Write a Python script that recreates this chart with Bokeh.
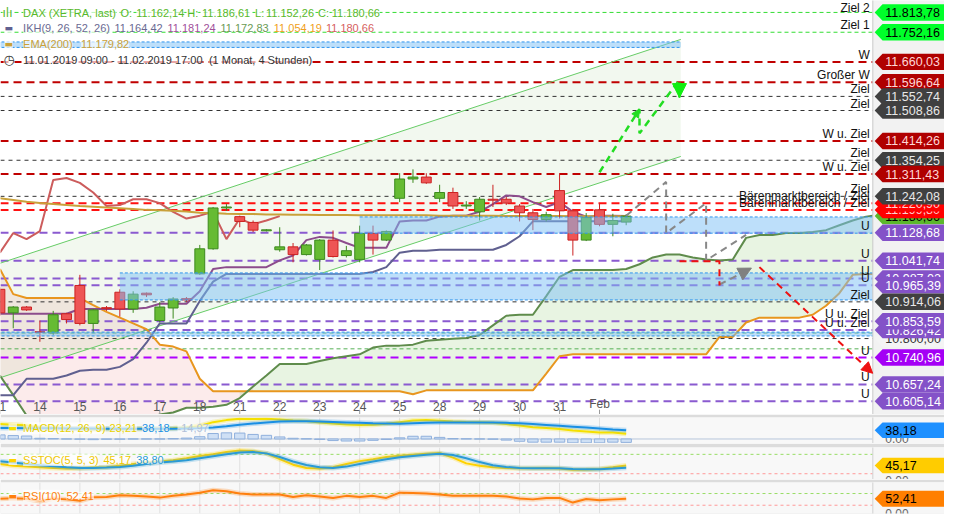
from bokeh.plotting import figure
from bokeh.layouts import column
from bokeh.models import Range1d, Label, Arrow, NormalHead
from bokeh.core.properties import value
from bokeh.embed import file_html
from bokeh.resources import INLINE

FONT = "Liberation Sans"

# ---------------- data ----------------
day_labels = ["11", "14", "15", "16", "17", "18", "21", "22", "23", "24", "25", "28", "29", "30", "31", "Feb"]
day_index = [0, 3, 6, 9, 12, 15, 18, 21, 24, 27, 30, 33, 36, 39, 42, 45]

opens = [10953, 10880, 10898, 10821, 10817, 10877, 10965, 10847, 10896, 10944, 10892, 10941, 10856, 10895, 10924, 11001,
         11079, 11206, 11179, 11161, 11135, 11076, 11085, 11061, 11046, 11106, 11058, 11046, 11127, 11106, 11236, 11296,
         11302, 11236, 11254, 11212, 11194, 11233, 11233, 11212, 11191, 11170, 11260, 11197, 11106, 11200, 11155, 11162.14]
highs = [10959, 10901, 10901, 10856, 10886, 10880, 10998, 10892, 10901, 10953, 10947, 10943, 10913, 10929, 10929, 11091,
         11209, 11218, 11182, 11167, 11140, 11146, 11097, 11094, 11109, 11136, 11088, 11151, 11151, 11136, 11314, 11326,
         11314, 11278, 11269, 11227, 11240, 11278, 11240, 11218, 11203, 11194, 11314, 11203, 11190, 11221, 11188, 11186.61]
lows = [10871, 10832, 10886, 10790, 10811, 10847, 10841, 10817, 10886, 10868, 10880, 10929, 10850, 10862, 10914, 10998,
        11076, 11197, 11146, 11131, 11133, 11070, 11037, 11058, 11013, 11052, 11052, 11037, 11061, 11103, 11224, 11284,
        11281, 11224, 11203, 11203, 11167, 11209, 11215, 11164, 11137, 11164, 11173, 11058, 11103, 11149, 11118, 11152.26]
closes = [10880, 10898, 10889, 10819, 10874, 10859, 10847, 10889, 10893, 10892, 10938, 10936, 10898, 10923, 10920, 11079,
          11206, 11209, 11164, 11137, 11138, 11085, 11061, 11091, 11106, 11055, 11073, 11127, 11106, 11133, 11296, 11302,
          11284, 11254, 11212, 11215, 11233, 11230, 11221, 11191, 11170, 11185, 11197, 11106, 11176, 11155, 11167, 11180.66]

ema200 = [11236, 11231, 11225, 11221, 11218, 11215, 11212, 11210, 11207, 11205, 11203, 11200, 11199, 11197, 11195, 11191,
          11190, 11188, 11187, 11187, 11186, 11186, 11185, 11185, 11184, 11184, 11184, 11183, 11183, 11183, 11183, 11183,
          11183, 11182, 11182, 11182, 11182, 11182, 11181, 11181, 11181, 11181, 11181, 11180, 11180, 11180, 11180, 11179.82]

ikh_kijun = [10624, 10624, 10675, 10675, 10675, 10685, 10700, 10703, 10703, 10712, 10736, 10787, 10847, 10847, 10847, 10917,
             10977, 11001, 11001, 11001, 11001, 11001, 11001, 11001, 11001, 11001, 11001, 11001, 11007, 11022, 11067, 11073,
             11073, 11076, 11076, 11076, 11076, 11076, 11091, 11118, 11164.42, 11164.42, 11164.42, 11164.42, 11164.42,
             11164.42, 11164.42, 11164.42]
ikh_tenkan = [10877, 10877, 10877, 10877, 10877, 10877, 10892, 10892, 10892, 10892, 10892, 10896, 10908, 10908, 10908, 10947,
              11016, 11022, 11022, 11022, 11022, 11043, 11058, 11106, 11116, 11113, 11097, 11082, 11082, 11082, 11164, 11167,
              11167, 11179, 11182, 11182, 11194, 11218, 11245, 11242, 11224, 11209, 11224, 11194, 11179, 11182, 11182, 11181.24]
ikh_chikou = [11067, 11128, 11109, 11134, 11293, 11299, 11284, 11254, 11212, 11215, 11233, 11233, 11221, 11194, 11173,
              11182, 11194, 11109, 11173, 11155, 11167, 11180.66]
ikh_senkou_a = [10685, 10624, 10561, 10525, 10507, 10495, 10489, 10489, 10495, 10507, 10525, 10549,
                10564, 10570, 10585, 10585, 10588, 10594, 10615, 10651, 10685, 10721, 10721, 10721,
                10730, 10739, 10745, 10751, 10772, 10778, 10778, 10781, 10793, 10796, 10799, 10802,
                10811, 10841, 10871, 10874, 10874, 10932, 10992, 11013, 11013, 11013, 11013, 11016,
                11031, 11052, 11061, 11061, 11052, 11046, 11043, 11046, 11113, 11122, 11122, 11128,
                11128, 11131, 11137, 11152, 11167, 11179, 11185]
ikh_senkou_b = [11016, 10938, 10926, 10926, 10926, 10926, 10926, 10904, 10883, 10865, 10847, 10829, 10781, 10775, 10760,
                10675, 10636, 10636, 10636, 10636, 10636, 10636, 10636, 10636, 10636, 10636, 10636, 10636, 10636, 10636,
                10636, 10627, 10639, 10639, 10639, 10639, 10639, 10639, 10639, 10639, 10639, 10691, 10745, 10751, 10751,
                10751, 10751, 10751, 10751, 10751, 10751, 10751, 10751, 10751, 10805, 10805, 10850, 10865, 10865, 10865,
                10865, 10874, 10902, 10941, 10998, 11001, 11001]

# trend channel (drawn)
chan_x = [0.0, 51.1]
chan_upper = [11034, 11730]
chan_lower = [10678, 11366]

# horizontal levels
level_vals = [11813.78, 11752.16, 11660.03, 11596.64, 11552.74, 11508.86, 11414.26, 11354.25, 11311.43, 11242.08,
              11220.90, 11199.80, 11128.68, 11041.74, 10987.02, 10965.39, 10914.06, 10853.59, 10826.42, 10800.00,
              10740.96, 10657.24, 10605.14]
level_kinds = ["zg", "zg", "w", "w", "z", "z", "w", "z", "w", "z", "b", "b", "u", "u", "u", "u", "z", "u", "u", "p",
               "m", "u", "u"]
level_texts = ["Ziel 2", "Ziel 1", "W", "Großer W", "Ziel", "Ziel", "W u. Ziel", "Ziel", "W u. Ziel", "Ziel",
               "Bärenmarktbereich / Ziel", "Bärenmarktbereich / Ziel", "U", "U", "U", "U", "Ziel", "U u. Ziel",
               "U u. Ziel", "", "U", "U", "U"]
tag_order = [0, 1, 2, 3, 4, 5, 6, 7, 8, -1, 11, 10, 9, 12, 13, 14, 15, 16, 19, 18, 17, 20, 21, 22]
thin_green_levels = [10817, 10768]

# zones
band_x0 = [-1, 27, 9, -1]
band_x1 = [51.1, 72, 72, 72]
band_top = [11722, 11178, 11004, 10820]
band_bot = [11705, 11127.5, 10920, 10808]

# projections (drawn)
proj_green_x = [45, 48, 48, 51, 51]
proj_green_y = [11317, 11513, 11438, 11604, 11549]
proj_gray_x = [47, 50, 50, 53, 53, 56]
proj_gray_y = [11182, 11287, 11128, 11221, 11043, 11122]
proj_gray2_x = [54, 56.4]
proj_gray2_y = [10968, 11019]
proj_red_x = [51, 54, 54]
proj_red_y = [11040, 11040, 10965]
proj_red2_x = [57, 65.5]
proj_red2_y = [11022, 10692]

# indicators
macd_line = [66, 63, 60, 50, 49, 46, 45, 43, 44, 44, 45, 45, 45, 47, 50, 57, 74, 83, 89, 88, 89, 86, 81, 79, 72, 68, 64,
             62, 63, 67, 74, 81, 83, 80, 77, 75, 74, 71, 66, 59, 52, 48, 44, 37, 33, 29, 28, 23.21]
macd_signal = [48, 48, 47, 47, 47, 46, 46, 46, 45, 45, 45, 45, 45, 45, 46, 47, 50, 56, 63, 68, 73, 77, 78, 78, 77, 75,
               73, 71, 69, 68, 67, 69, 71, 72, 73, 73, 73, 72, 71, 69, 66, 62, 58, 54, 50, 46, 42, 38.18]
macd_hist = [18, 15, 13, 3, 2, 0, -1, -3, -1, -1, 0, 0, 0, 2, 4, 10, 24, 27, 26, 20, 16, 9, 3, 1, -2, -7, -9, -9, -6, -2,
             5, 12, 12, 7, 2, 1, 0, -1, -5, -10, -14, -14, -14, -17, -17, -17, -14, -14.97]
sstoc_k = [50, 45, 42, 40, 38, 36, 37, 39, 40, 45, 50, 55, 58, 62, 68, 75, 80, 87, 92, 90, 83, 65, 48, 38, 36, 40, 50, 59,
           65, 72, 76, 79, 82, 84, 70, 52, 45, 40, 38, 37, 37, 38, 36, 32, 33, 35, 40, 45.17]
sstoc_d = [59, 55, 50, 46, 43, 40, 38, 38, 39, 41, 45, 50, 55, 58, 62, 68, 74, 80, 86, 87, 83, 72, 58, 47, 40, 38, 42, 50,
           58, 65, 71, 75, 79, 82, 78, 68, 56, 46, 41, 38, 37, 37, 37, 35, 34, 34, 36, 38.80]
rsi10 = [52, 54, 52, 44, 53, 50, 45, 57, 58, 64, 62, 60, 56, 62, 67, 73, 81, 78, 70, 67, 67, 67, 58, 64, 60, 55, 62, 58,
         62, 55, 73, 72, 70, 67, 62, 62, 62, 62, 60, 53, 50, 55, 55, 39, 51, 47, 50, 52.41]


def de(v):
    s = f"{v:,.2f}"
    return s.replace(",", "#").replace(".", ",").replace("#", ".")


idx = list(range(len(closes)))
idx_f = list(range(len(ikh_senkou_a)))
idx_c = list(range(len(ikh_chikou)))

X0, X1 = 0.044, 70.89
COLX = 65.51
xr = Range1d(X0, X1)


def base_fig(h, y0, y1, top=0, bottom=0, bg="white"):
    f = figure(width=944, height=h, x_range=xr, y_range=Range1d(y0, y1), output_backend="svg",
               toolbar_location=None, x_axis_location=None, y_axis_location=None, title=None,
               min_border_left=0, min_border_right=0, min_border_top=top, min_border_bottom=bottom,
               outline_line_color=None, background_fill_color=bg, border_fill_color="#dcdcdc")
    f.grid.visible = False
    return f


def tag(f, v, fill, tcol, half, txt=None, size="12.5px"):
    f.patch(x=[65.65, 66.24, X1 + 1, X1 + 1, 66.24], y=[v, v + half, v + half, v - half, v - half],
            fill_color=fill, line_color=None)
    f.text(x=[66.45], y=[v], text=[txt if txt is not None else de(v)], text_font=value(FONT),
           text_font_size=size, text_color=tcol, text_baseline="middle", text_align="left")


def lab(f, x, y, text, color, size="11px", bg="white", alpha=0.65, font=FONT):
    f.add_layout(Label(x=x, y=y, x_units="screen", y_units="screen", text=text, text_color=color,
                       text_font=font, text_font_size=size, text_baseline="middle",
                       background_fill_color=bg, background_fill_alpha=alpha if bg else 0))


# ---------------- main chart ----------------
Y0, Y1 = 10563.9, 11850.85
p = base_fig(414, Y0, Y1)

# kumo
p.varea(x=idx_f[:20], y1=ikh_senkou_a[:20], y2=ikh_senkou_b[:20], fill_color="#f08a8a", fill_alpha=0.17)
p.varea(x=idx_f[18:], y1=ikh_senkou_a[18:], y2=ikh_senkou_b[18:], fill_color="#8cc870", fill_alpha=0.2)
# trend channel fill
p.varea(x=chan_x, y1=chan_lower, y2=chan_upper, fill_color="#7fbf5f", fill_alpha=0.1)

styles = {"zg": ("#33dd33", 1, "4 3"), "w": ("#c00000", 2, "8 5"), "z": ("#333333", 1, "4 4"),
          "b": ("#ff1010", 2, "8 5"), "u": ("#8a5ad0", 2, "8 5"), "m": ("#b000ff", 2, "8 5"),
          "p": ("#333333", 1, "4 4")}
for kind, (col, lw, dash) in styles.items():
    vals = [v for v, k in zip(level_vals, level_kinds) if k == kind]
    p.segment(x0=X0, x1=COLX, y0=vals, y1=vals, line_color=col, line_width=lw, line_dash=dash)
p.segment(x0=X0, x1=COLX, y0=thin_green_levels, y1=thin_green_levels, line_color="#55b055", line_width=1,
          line_dash="4 3")

# channel lines
p.line(chan_x, chan_upper, line_color="#66cc66", line_width=1)
p.line(chan_x, chan_lower, line_color="#66cc66", line_width=1)

# ichimoku + ema
p.line(idx_f, ikh_senkou_b, line_color="#e8961e", line_width=2)
p.line(idx_f, ikh_senkou_a, line_color="#5f8c4c", line_width=2)
p.line(idx, ikh_kijun, line_color="#606090", line_width=2)
p.line(idx, ikh_tenkan, line_color="#8c4c8c", line_width=2)
p.line(idx_c, ikh_chikou, line_color="#cc5c5c", line_width=2)
p.line(idx, ema200, line_color="#c9a13a", line_width=2)

# candles
up = [c >= o for o, c in zip(opens, closes)]
wick_col = ["#3d8a1f" if u else "#cc2222" for u in up]
body_col = ["#66bb33" if u else "#ee5555" for u in up]
p.segment(x0=idx, x1=idx, y0=lows, y1=highs, line_color=wick_col, line_width=1)
p.vbar(x=idx, width=0.74, top=[max(o, c) for o, c in zip(opens, closes)],
       bottom=[min(o, c) for o, c in zip(opens, closes)], fill_color=body_col, line_color=wick_col, line_width=1)

# zones
p.quad(left=band_x0, right=band_x1, top=band_top, bottom=band_bot, fill_color="#7cc0f5", fill_alpha=0.5,
       line_color=None)
p.segment(x0=band_x0, x1=band_x1, y0=band_top, y1=band_top, line_color="#2f95ee", line_width=1, line_dash="3 2")
p.segment(x0=band_x0, x1=band_x1, y0=band_bot, y1=band_bot, line_color="#2f95ee", line_width=1, line_dash="3 2")

# projections
p.line(proj_green_x, proj_green_y, line_color="#22dd22", line_width=2.5, line_dash="7 5")
p.line(proj_gray_x, proj_gray_y, line_color="#888888", line_width=2, line_dash="7 5")
p.line(proj_gray2_x, proj_gray2_y, line_color="#888888", line_width=2, line_dash="7 5")
p.line(proj_red_x, proj_red_y, line_color="#ee1111", line_width=2, line_dash="7 5")
p.line(proj_red2_x, proj_red2_y, line_color="#ee1111", line_width=2, line_dash="7 5")
p.add_layout(Arrow(end=NormalHead(size=8, fill_color="#22dd22", line_color="#22dd22"), line_alpha=0,
                   x_start=proj_green_x[0], y_start=proj_green_y[0], x_end=proj_green_x[1], y_end=proj_green_y[1]))
p.add_layout(Arrow(end=NormalHead(size=14, fill_color="#11ee11", line_color="#11ee11"), line_alpha=0,
                   x_start=proj_green_x[3], y_start=proj_green_y[3], x_end=proj_green_x[4], y_end=proj_green_y[4]))
p.add_layout(Arrow(end=NormalHead(size=13, fill_color="#808080", line_color="#808080"), line_alpha=0,
                   x_start=proj_gray2_x[0], y_start=proj_gray2_y[0], x_end=proj_gray2_x[1], y_end=proj_gray2_y[1]))
p.add_layout(Arrow(end=NormalHead(size=11, fill_color="#ee1111", line_color="#ee1111"), line_alpha=0,
                   x_start=proj_red2_x[0], y_start=proj_red2_y[0], x_end=proj_red2_x[1], y_end=proj_red2_y[1]))

# price column
p.quad(left=COLX, right=X1 + 1, bottom=Y0 - 50, top=Y1 + 50, fill_color="#f2f2f2", line_color=None)
p.segment(x0=COLX, x1=COLX, y0=Y0 - 50, y1=Y1 + 50, line_color="#c8c8c8", line_width=1)

# level labels (top one nudged down so it stays inside the frame)
p.text(x=65.28, y=level_vals[:1], text=level_texts[:1], text_font=value(FONT), text_font_size="12px",
       text_color="#111111", text_align="right", text_baseline="bottom", y_offset=3)
p.text(x=65.28, y=level_vals[1:], text=level_texts[1:], text_font=value(FONT), text_font_size="12px",
       text_color="#111111", text_align="right", text_baseline="bottom", y_offset=0)

# tags
tag_fill = {"zg": "#00ff2a", "w": "#b00000", "z": "#404040", "b": "#ff0000", "u": "#8452c8", "m": "#a400f5",
            "p": "#f4f4f4", "c": "#5cb82c"}
tag_text = {"zg": "#000000", "w": "#ffd6d6", "z": "#e8e8e8", "b": "#ffd0d0", "u": "#ffffff", "m": "#ffffff",
            "p": "#333333", "c": "#000000"}
TH = 25.6
for k in tag_order:
    if k < 0:
        v, kind = closes[-1], "c"
    else:
        v, kind = level_vals[k], level_kinds[k]
    tag(p, v, tag_fill[kind], tag_text[kind], TH)

# day labels + ticks
p.segment(x0=day_index, x1=day_index, y0=Y0, y1=Y0 + 15, line_color="#999999", line_width=1)
p.text(x=day_index, y=Y0, text=day_labels, text_font=value(FONT), text_font_size="12px", text_color="#555555",
       text_align="center", text_baseline="bottom", y_offset=-4)

# legend
H = 414
lab(p, 2, H - 12.9, "ılı", "#58b82a", size="12px", font="DejaVu Sans")
lab(p, 22.6, H - 12.9, "DAX (XETRA, last)", "#58b82a")
for xx, t in [(120, "O:"), (135.7, "11.162,14"), (186.8, "H:"), (201.5, "11.186,61"), (254.6, "L:"),
              (265.4, "11.152,26"), (317.5, "C:"), (331.3, "11.180,66")]:
    lab(p, xx, H - 12.9, t, "#58b82a")
lab(p, 4, H - 27.5, "▬", "#606090", size="9px", font="DejaVu Sans")
lab(p, 22.6, H - 27.5, "IKH(9, 26, 52, 26)", "#6a6a92")
for xx, t, c in [(114, "11.164,42", "#6a6a92"), (167, "11.181,24", "#a0509a"), (220, "11.172,83", "#6a9a55"),
                 (273.3, "11.054,19", "#f0a020"), (325.4, "11.180,66", "#d66060")]:
    lab(p, xx, H - 27.5, t, c)
lab(p, 4, H - 43.6, "▬", "#c9a13a", size="9px", font="DejaVu Sans")
lab(p, 22.6, H - 43.6, "EMA(200)", "#c9a13a")
lab(p, 80.6, H - 43.6, "11.179,82", "#c9a13a")
lab(p, 3, H - 59.2, "◷", "#333333", size="13px", font="DejaVu Sans")
lab(p, 22.6, H - 59.2, "11.01.2019 09:00 - 11.02.2019 17:00", "#333333")
lab(p, 208.4, H - 59.2, "(1 Monat, 4 Stunden)", "#333333")


# ---------------- indicator panels ----------------
def panel_common(f, y0, y1):
    f.segment(x0=day_index, x1=day_index, y0=y0, y1=y1, line_color="#e0e0e0", line_width=1)


# MACD
m = base_fig(29, -19.9, 94.5, top=3, bg="#f8f8f8")
panel_common(m, -19.9, 94.5)
m.segment(x0=X0, x1=COLX, y0=0, y1=0, line_color="#b8c6dc", line_width=1)
m.vbar(x=idx, width=0.78, top=macd_hist, bottom=0, fill_color="#cfe0f5", line_color="#90b0dc", line_width=1)
m.line(idx, macd_line, line_color="#f5e000", line_width=5, line_alpha=0.25)
m.line(idx, macd_line, line_color="#f5e000", line_width=2)
m.line(idx, macd_signal, line_color="#1a8fe3", line_width=5, line_alpha=0.25)
m.line(idx, macd_signal, line_color="#1a8fe3", line_width=2)
m.quad(left=COLX, right=X1 + 1, bottom=-100, top=200, fill_color="#f6f6f6", line_color=None)
m.segment(x0=COLX, x1=COLX, y0=-100, y1=200, line_color="#d0d0d0")
m.text(x=[66.45], y=[0], text=["0,00"], text_font=value(FONT), text_font_size="12px", text_color="#666666",
       text_baseline="middle")
tag(m, macd_signal[-1], "#1e90ff", "#000000", 33.9)
lab(m, 8, 15.3, "▬", "#f5e000", size="9px", font="DejaVu Sans")
lab(m, 22.6, 15.3, "MACD(12, 26, 9)", "#e8d000")
lab(m, 109.1, 15.3, de(macd_line[-1]), "#e8d000")
lab(m, 141.6, 15.3, de(macd_signal[-1]), "#1a8fe3")
lab(m, 177, 15.3, de(macd_hist[-1]), "#b0c0d8")

# SSTOC
s = base_fig(36, 2.1, 101.2, top=4, bg="#f8f8f8")
panel_common(s, 2.1, 101.2)
s.segment(x0=X0, x1=COLX, y0=80, y1=80, line_color="#99dd66", line_width=1, line_dash="3 3")
s.segment(x0=X0, x1=COLX, y0=20, y1=20, line_color="#ff9999", line_width=1, line_dash="3 3")
s.line(idx, sstoc_k, line_color="#ffd200", line_width=5, line_alpha=0.25)
s.line(idx, sstoc_k, line_color="#ffd200", line_width=2)
s.line(idx, sstoc_d, line_color="#2a9ad6", line_width=5, line_alpha=0.25)
s.line(idx, sstoc_d, line_color="#2a9ad6", line_width=2)
s.quad(left=COLX, right=X1 + 1, bottom=-100, top=200, fill_color="#f6f6f6", line_color=None)
s.segment(x0=COLX, x1=COLX, y0=-100, y1=200, line_color="#d0d0d0")
s.text(x=[66.45], y=[0], text=["0,00"], text_font=value(FONT), text_font_size="12px", text_color="#666666",
       text_baseline="middle")
tag(s, sstoc_k[-1], "#ffcc00", "#000000", 24)
lab(s, 8, 19.4, "▬", "#ffd200", size="9px", font="DejaVu Sans")
lab(s, 22.6, 19.4, "SSTOC(5, 5, 3)", "#f0c800")
lab(s, 103, 19.4, de(sstoc_k[-1]), "#f0c800")
lab(s, 135.7, 19.4, de(sstoc_d[-1]), "#2a9ad6")

# RSI
r = base_fig(35, 1.7, 107.7, top=3, bottom=1, bg="#f8f8f8")
panel_common(r, 1.7, 107.7)
r.segment(x0=X0, x1=COLX, y0=70, y1=70, line_color="#99dd66", line_width=1, line_dash="3 3")
r.segment(x0=X0, x1=COLX, y0=30, y1=30, line_color="#ff9999", line_width=1, line_dash="3 3")
r.line(idx, rsi10, line_color="#ff7f0e", line_width=5, line_alpha=0.25)
r.line(idx, rsi10, line_color="#ff7f0e", line_width=2)
r.quad(left=COLX, right=X1 + 1, bottom=-100, top=200, fill_color="#f6f6f6", line_color=None)
r.segment(x0=COLX, x1=COLX, y0=-100, y1=200, line_color="#d0d0d0")
r.text(x=[66.45], y=[0], text=["0,00"], text_font=value(FONT), text_font_size="12px", text_color="#666666",
       text_baseline="middle")
tag(r, rsi10[-1], "#ff7f00", "#000000", 27.4)
lab(r, 8, 17.7, "▬", "#ff7f0e", size="9px", font="DejaVu Sans")
lab(r, 22.6, 17.7, "RSI(10)", "#ff7f0e")
lab(r, 65.9, 17.7, de(rsi10[-1]), "#ff7f0e")

layout = column(p, m, s, r, spacing=0)
open("out.html", "w").write(file_html(layout, INLINE))
